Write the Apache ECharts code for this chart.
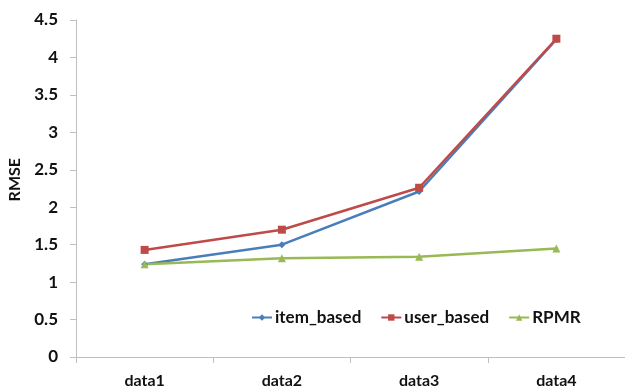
<!DOCTYPE html>
<html>
<head>
<meta charset="utf-8">
<script src="https://cdn.jsdelivr.net/npm/echarts@6/dist/echarts.min.js"></script>
<style>
html,body{margin:0;padding:0;background:#fff;}
#chart{width:625px;height:389px;}
</style>
</head>
<body>
<div id="chart"></div>
<script>
// RMSE of three recommenders across four datasets
const categories = ['data1', 'data2', 'data3', 'data4'];
const itemBased = [1.24, 1.50, 2.21, 4.24];
const userBased = [1.43, 1.70, 2.26, 4.25];
const rpmr = [1.24, 1.32, 1.34, 1.45];
const yTicks = [0, 0.5, 1, 1.5, 2, 2.5, 3, 3.5, 4, 4.5];

const FONT = 'Lato';
const chart = echarts.init(document.getElementById('chart'));

function lineSeries(name, data, color, symbol, size) {
  return {
    name: name,
    type: 'line',
    data: data,
    symbol: symbol,
    symbolSize: size,
    showSymbol: true,
    itemStyle: { color: color },
    lineStyle: { color: color, width: 2.5 },
    emphasis: { disabled: true },
    animation: false
  };
}

chart.setOption({
  animation: false,
  grid: { left: 76, right: -2, top: 20, bottom: 32 },
  legend: {
    left: 246,
    top: 304,
    itemWidth: 20,
    itemHeight: 8,
    itemGap: 19,
    textStyle: { fontFamily: FONT, fontWeight: 'bold', fontSize: 17, color: '#111', padding: [0, 0, 0, -2] },
    data: ['item_based', 'user_based', 'RPMR']
  },
  graphic: [{
    type: 'text',
    left: 7,
    top: 158,
    rotation: Math.PI / 2,
    style: { text: 'RMSE', fontFamily: FONT, fontWeight: 'bold', fontSize: 16, fill: '#111' }
  }],
  xAxis: {
    type: 'category',
    data: categories,
    boundaryGap: true,
    axisLine: { lineStyle: { color: '#bfbfbf', width: 1 } },
    axisTick: { show: true, alignWithLabel: false, length: 6, lineStyle: { color: '#bfbfbf' } },
    axisLabel: { fontFamily: FONT, fontWeight: 'bold', fontSize: 16, color: '#111', margin: 16 }
  },
  yAxis: {
    type: 'value',
    min: 0,
    max: 4.5,
    interval: 0.5,
    axisLine: { show: true, lineStyle: { color: '#bfbfbf', width: 1 } },
    axisTick: { show: true, length: 6, lineStyle: { color: '#bfbfbf' } },
    splitLine: { show: false },
    axisLabel: {
      fontFamily: FONT, fontWeight: 'bold', fontSize: 17, color: '#111', margin: 18,
      formatter: function (v) { return yTicks.indexOf(v) >= 0 ? String(v) : ''; }
    }
  },
  series: [
    lineSeries('item_based', itemBased, '#4a7ebb', 'diamond', 7),
    lineSeries('user_based', userBased, '#be4b48', 'rect', 8),
    lineSeries('RPMR', rpmr, '#98b954', 'triangle', 8)
  ]
});
</script>
</body>
</html>
